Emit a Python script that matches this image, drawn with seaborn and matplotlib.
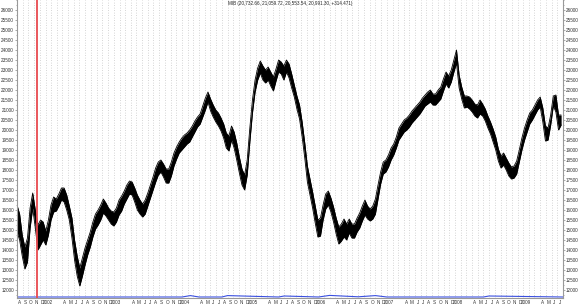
import numpy as np
import pandas as pd
import matplotlib
matplotlib.use("Agg")
import matplotlib.pyplot as plt
import matplotlib.dates as mdates
import matplotlib.ticker as mticker
import seaborn as sns

# ---------------- data ----------------
title_text = "MIB (20,732.66, 21,059.72, 20,553.54, 20,991.30, +314.471)"
start_date = "2001-08-01"
end_date = "2009-08-01"
sample_freq = "14D"
marker_date = "2001-11-16"

high = [16250, 15800, 14750, 14150, 14600, 16100, 16850, 16000, 15250, 15500,
        15400, 14950, 15500, 16250, 16650, 16550, 16800, 17100, 17100, 16750,
        16200, 15600, 14500, 13700, 13100, 13600, 14100, 14500, 14900, 15400,
        15800, 16000, 16250, 16550, 16350, 16100, 15950, 15900, 16100, 16500,
        16700, 16950, 17250, 17450, 17400, 17100, 16750, 16500, 16300, 16500,
        16850, 17250, 17650, 18100, 18400, 18500, 18300, 18050, 18050, 18400,
        18850, 19150, 19400, 19600, 19750, 19850, 20000, 20200, 20450, 20650,
        20800, 21200, 21600, 21900, 21550, 21250, 21000, 20850, 20600, 20300,
        19850, 19700, 20200, 19900, 19350, 18650, 18050, 17750, 18500, 20100,
        21500, 22500, 23100, 23450, 23200, 23000, 23150, 22900, 22650, 23050,
        23500, 23400, 23200, 23500, 23300, 22800, 22250, 21700, 21250, 20400,
        19350, 18200, 17550, 16900, 16200, 15500, 15600, 16250, 16800, 16950,
        16600, 16150, 15600, 15150, 15300, 15550, 15300, 15550, 15300, 15300,
        15600, 15850, 16200, 16500, 16200, 16050, 16200, 16550, 17250, 17900,
        18400, 18500, 18750, 19100, 19300, 19650, 20100, 20300, 20500, 20600,
        20750, 20950, 21100, 21250, 21400, 21600, 21750, 21900, 22000, 21800,
        21800, 22000, 22150, 22550, 22900, 22700, 23000, 23500, 24000, 22750,
        22150, 21700, 21700, 21650, 21500, 21300, 21250, 21500, 21300, 21050,
        20700, 20400, 20050, 19650, 19050, 18700, 18850, 18600, 18350, 18150,
        18200, 18450, 19000, 19600, 20100, 20500, 20850, 21000, 21250, 21500,
        21650, 21100, 20200, 20100, 20750, 21700, 21750, 20750, 20750]

low = [14900, 14500, 13700, 13050, 13400, 15100, 16100, 15100, 14000, 14250,
       14500, 14250, 14750, 15500, 15900, 15950, 16200, 16500, 16400, 16000,
       15500, 14600, 13500, 12700, 12200, 12700, 13250, 13750, 14150, 14650,
       15050, 15250, 15500, 15850, 15700, 15500, 15300, 15200, 15400, 15750,
       15950, 16300, 16550, 16800, 16750, 16400, 16000, 15800, 15650, 15800,
       16200, 16600, 17000, 17400, 17750, 17900, 17650, 17350, 17350, 17700,
       18200, 18550, 18850, 19000, 19150, 19300, 19400, 19650, 19900, 20150,
       20300, 20650, 21000, 21400, 20950, 20650, 20400, 20200, 19950, 19600,
       19100, 18950, 19500, 19100, 18500, 17850, 17250, 17000, 17750, 19400,
       20850, 21900, 22500, 22850, 22500, 22350, 22500, 22200, 21950, 22450,
       22900, 22800, 22500, 22900, 22600, 22100, 21650, 21050, 20550, 19650,
       18600, 17400, 16750, 16100, 15350, 14650, 14700, 15500, 16050, 16250,
       15900, 15400, 14800, 14300, 14450, 14650, 14500, 14850, 14600, 14600,
       14900, 15100, 15450, 15750, 15550, 15450, 15550, 15800, 16550, 17300,
       17800, 17900, 18150, 18500, 18750, 19100, 19500, 19700, 19900, 20000,
       20150, 20350, 20500, 20650, 20800, 21000, 21200, 21300, 21400, 21250,
       21250, 21400, 21550, 21950, 22300, 22100, 22400, 22900, 23350, 22100,
       21550, 21100, 21150, 21050, 20900, 20700, 20600, 20800, 20700, 20450,
       20100, 19800, 19400, 19000, 18450, 18100, 18250, 18000, 17700, 17550,
       17600, 17800, 18400, 19000, 19500, 19900, 20300, 20500, 20750, 21000,
       21150, 20400, 19450, 19500, 20250, 21200, 20900, 20000, 20250]

blue_dates = ["2001-08-01", "2004-01-01", "2004-02-15", "2004-04-01", "2004-08-01",
              "2004-09-01", "2005-06-01", "2005-07-01", "2006-01-01", "2006-03-01",
              "2006-08-01", "2006-11-01", "2007-01-01", "2008-06-01", "2008-07-01",
              "2009-08-01"]
blue_vals = [11650, 11650, 11720, 11650, 11650, 11720, 11650, 11700, 11650, 11730,
             11660, 11720, 11650, 11650, 11700, 11650]

y_ticks = list(range(12000, 26001, 500))
month_letters = ["", "", "", "A", "M", "J", "J", "A", "S", "O", "N", "D"]

# ---------------- figure ----------------
sns.set_style("white")
plt.rcParams["font.family"] = ["Liberation Sans", "DejaVu Sans"]

W, H = 580, 307
fig = plt.figure(figsize=(W / 100, H / 100), dpi=100)
ax = fig.add_axes([17 / W, 9 / H, 546 / W, 298 / H])

dates = pd.date_range(start_date, periods=len(high), freq=sample_freq)
df = pd.DataFrame({"date": dates, "high": high, "low": low})

ax.fill_between(df["date"], df["low"], df["high"], color="black", lw=0)
sns.lineplot(data=df, x="date", y="high", color="black", lw=0.6, ax=ax)
sns.lineplot(data=df, x="date", y="low", color="black", lw=0.6, ax=ax)

bdf = pd.DataFrame({"date": pd.to_datetime(blue_dates), "v": blue_vals})
sns.lineplot(data=bdf, x="date", y="v", color="#3a4fe0", lw=0.8, ax=ax)

ax.axvline(pd.Timestamp(marker_date), color="#e84a4f", lw=1.3, zorder=5)

ax.set_xlim(pd.Timestamp(start_date), pd.Timestamp(end_date))
ax.set_ylim(11600, 26500)
ax.set_xlabel("")
ax.set_ylabel("")

# month separators + dotted grid
bounds = pd.date_range(start_date, end_date, freq="MS")
ax.set_xticks(mdates.date2num(bounds), minor=True)
centers = bounds[:-1] + pd.Timedelta(days=14)
labels = []
for d in centers:
    if d.month == 1:
        labels.append(str(d.year))
    else:
        labels.append(month_letters[d.month - 1])
ax.set_xticks(mdates.date2num(centers))
ax.set_xticklabels(labels)
ax.grid(which="minor", axis="x", ls=(0, (1, 2)), color="#c8c8c8", lw=0.6)
ax.grid(which="major", axis="x", visible=False)
ax.grid(axis="y", visible=False)
ax.tick_params(axis="x", which="major", length=0, labelsize=3.3, pad=1.2,
               labelcolor="#333333")
ax.tick_params(axis="x", which="minor", length=9, width=0.5, color="#c0c0c0",
               direction="out")

ax.set_yticks(y_ticks)
ax.yaxis.set_major_formatter(mticker.FuncFormatter(lambda v, p: f"{int(v)}"))
ax.yaxis.set_minor_locator(mticker.MultipleLocator(250))
ax.tick_params(axis="y", which="both", left=True, right=True, labelleft=True,
               labelright=True, labelsize=3.3, labelcolor="#333333",
               color="#888888", width=0.5, pad=0.6)
ax.tick_params(axis="y", which="major", length=1.6)
ax.tick_params(axis="y", which="minor", length=1.0)

for s in ["left", "right", "bottom"]:
    ax.spines[s].set_color("#999999")
    ax.spines[s].set_linewidth(0.8)
ax.spines["top"].set_visible(False)

ax.text(0.5, 0.997, title_text, transform=ax.transAxes, ha="center", va="top",
        fontsize=3.3, color="#222222")

fig.savefig("out.png", dpi=100, facecolor="white")
